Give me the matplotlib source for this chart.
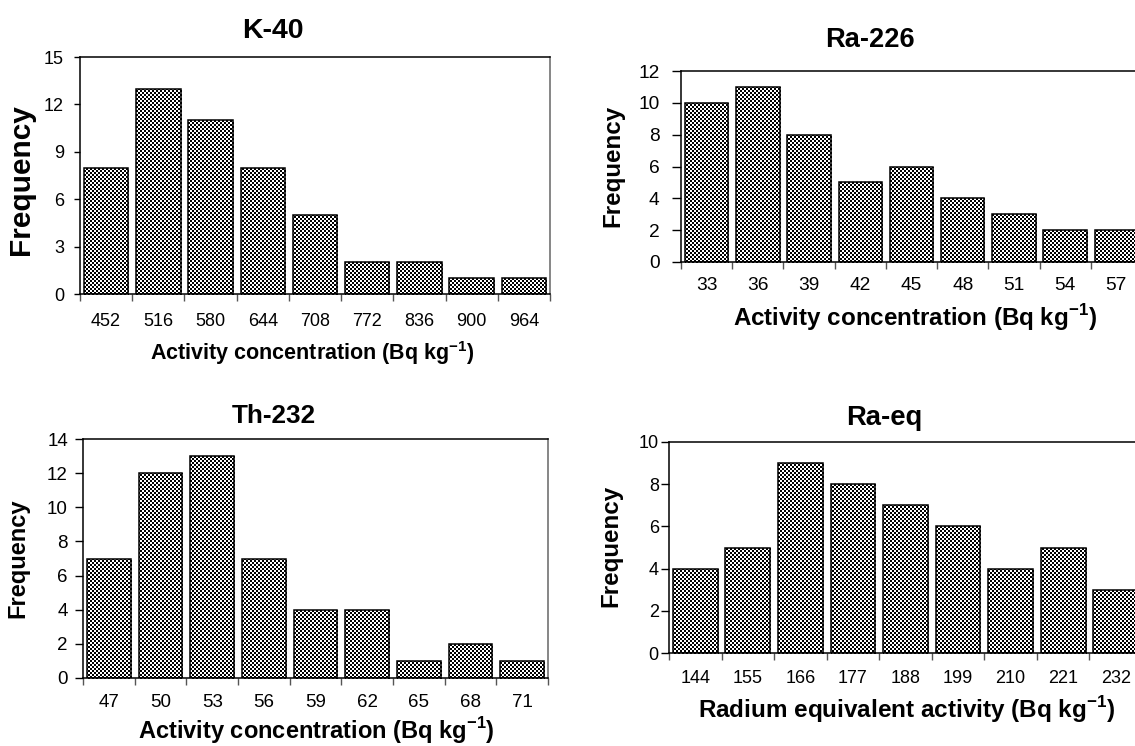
import numpy as np
import matplotlib
matplotlib.use("Agg")
import matplotlib.pyplot as plt

plt.rcParams['font.family'] = ['Liberation Sans', 'DejaVu Sans']
plt.rcParams['mathtext.fontset'] = 'custom'
plt.rcParams['mathtext.rm'] = 'Liberation Sans'
plt.rcParams['mathtext.bf'] = 'Liberation Sans:bold'

# ---------------- data ----------------
k40_labels = ['452', '516', '580', '644', '708', '772', '836', '900', '964']
k40_freq = [8, 13, 11, 8, 5, 2, 2, 1, 1]

ra226_labels = ['33', '36', '39', '42', '45', '48', '51', '54', '57']
ra226_freq = [10, 11, 8, 5, 6, 4, 3, 2, 2]

th232_labels = ['47', '50', '53', '56', '59', '62', '65', '68', '71']
th232_freq = [7, 12, 13, 7, 4, 4, 1, 2, 1]

raeq_labels = ['144', '155', '166', '177', '188', '199', '210', '221', '232']
raeq_freq = [4, 5, 9, 8, 7, 6, 4, 5, 3]

titles = ['K-40', 'Ra-226', 'Th-232', 'Ra-eq']
xlab_act = r'Activity concentration (Bq kg$^{\mathbf{-1}}$)'
xlab_raeq = r'Radium equivalent activity (Bq kg$^{\mathbf{-1}}$)'

W, H = 1135, 746
fig = plt.figure(figsize=(W / 100, H / 100), dpi=100)
fig.patch.set_facecolor('white')

# checker texture (2 px squares)
yy, xx = np.mgrid[0:H, 0:W]
chk = ((xx // 2 + yy // 2) % 2).astype(bool)
tex = np.ones((H, W, 4), dtype=np.uint8) * 255
tex[chk, :3] = 0

FAM = 'Liberation Sans'

panels = [
    dict(labels=k40_labels, freq=k40_freq, box=(80, 57, 550, 294), ymax=15, ystep=3,
         tick=13, title=titles[0], tpos=(273, 31), tsize=20.5,
         xlab=xlab_act, xpos=(312, 353), xsize=15.5, ypos=(21, 180), ysize=21.5,
         xpad=14, ypad=7.2, ylen=4.3),
    dict(labels=ra226_labels, freq=ra226_freq, box=(681, 71, 1142, 262), ymax=12, ystep=2,
         tick=13.8, title=titles[1], tpos=(870, 40), tsize=19.6,
         xlab=xlab_act, xpos=(915, 318), xsize=17.4, ypos=(613, 166), ysize=17.4,
         xpad=11, ypad=9, ylen=6.5),
    dict(labels=th232_labels, freq=th232_freq, box=(83, 439, 548, 678), ymax=14, ystep=2,
         tick=13.5, title=titles[2], tpos=(274, 416), tsize=18.8,
         xlab=xlab_act, xpos=(316, 731), xsize=17.0, ypos=(18, 558), ysize=17.0,
         xpad=11.5, ypad=5, ylen=5.8),
    dict(labels=raeq_labels, freq=raeq_freq, box=(669, 442, 1142, 653), ymax=10, ystep=2,
         tick=13, title=titles[3], tpos=(884, 418), tsize=19.7,
         xlab=xlab_raeq, xpos=(907, 710), xsize=17.5, ypos=(611, 546), ysize=17.4,
         xpad=12.5, ypad=1.5, ylen=5.8),
]

for p in panels:
    l, t, r, b = p['box']
    ax = fig.add_axes([l / W, 1 - b / H, (r - l) / W, (b - t) / H])
    ax.set_facecolor('none')
    x = np.arange(len(p['freq']))
    bars = ax.bar(x, p['freq'], width=0.85, facecolor='none', edgecolor='black',
                  linewidth=1.1, zorder=3)
    for rect in bars:
        fi = fig.figimage(tex, xo=0, yo=0, origin='upper', zorder=-1)
        fi.set_clip_path(rect)
    ax.set_xlim(-0.5, len(x) - 0.5)
    ax.set_ylim(0, p['ymax'])
    ax.set_yticks(np.arange(0, p['ymax'] + 0.1, p['ystep']))
    ax.set_xticks(np.arange(-0.5, len(x), 1.0))
    ax.set_xticklabels([])
    ax.set_xticks(x, minor=True)
    ax.set_xticklabels(p['labels'], minor=True)
    ax.tick_params(axis='x', which='major', length=5, width=1, color='#555555', direction='out')
    ax.tick_params(axis='x', which='minor', length=0, pad=p['xpad'],
                   labelsize=p['tick'], labelfontfamily=FAM)
    ax.tick_params(axis='y', which='major', length=p['ylen'], width=1, color='black',
                   direction='out', pad=p['ypad'], labelsize=p['tick'], labelfontfamily=FAM)
    for s in ax.spines.values():
        s.set_linewidth(1.1)
        s.set_color('black')
    ax.spines['right'].set_color('#666666')

    fig.text(p['tpos'][0] / W, 1 - p['tpos'][1] / H, p['title'], ha='center', va='center',
             fontsize=p['tsize'], fontweight='bold')
    fig.text(p['xpos'][0] / W, 1 - p['xpos'][1] / H, p['xlab'], ha='center', va='center',
             fontsize=p['xsize'], fontweight='bold')
    fig.text(p['ypos'][0] / W, 1 - p['ypos'][1] / H, 'Frequency', ha='center', va='center',
             rotation=90, fontsize=p['ysize'], fontweight='bold')

fig.savefig('out.png', dpi=100, facecolor='white')
